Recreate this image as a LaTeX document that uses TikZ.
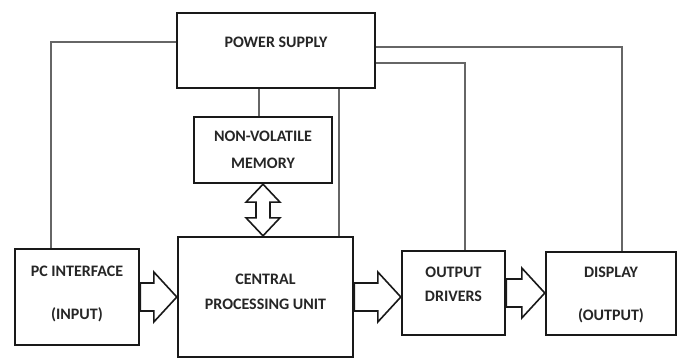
\documentclass[tikz,border=0pt]{standalone}
\usepackage{fontspec}
\setmainfont{Carlito}
\usetikzlibrary{calc,positioning}

% hollow block arrows between two boxes
\newcommand{\fatarrow}[2]{%
  \draw[fat] let \p1=(#1.east), \p2=(#2.west) in
    (\x1,\y1+14) -- (\x2-23,\y1+14) -- (\x2-23,\y1+25) -- (\x2,\y1)
    -- (\x2-23,\y1-25) -- (\x2-23,\y1-14) -- (\x1,\y1-14) -- cycle;}
\newcommand{\busarrow}[2]{%
  \draw[fat] let \p1=(#1.south), \p2=(#2.north) in
    (\x1,\y1) -- (\x1+17,\y1-18) -- (\x1+7,\y1-18) -- (\x1+7,\y2+18) -- (\x1+17,\y2+18)
    -- (\x1,\y2) -- (\x1-17,\y2+18) -- (\x1-7,\y2+18) -- (\x1-7,\y1-18) -- (\x1-17,\y1-18) -- cycle;}

\begin{document}
\begin{tikzpicture}[
    x=1pt, y=-1pt,
    every node/.style={font=\bfseries\fontsize{16}{25}\selectfont, inner sep=0pt},
    box/.style={draw=black!90, line width=2.4pt, fill=white},
    txt/.style={align=center, text=black!85},
    fat/.style={draw=black!90, line width=1.6pt, fill=white, line join=miter},
    wire/.style={draw=black!60, line width=1.2pt},
  ]
    \useasboundingbox (0,0) rectangle (677,358);

    % boxes
    \node[box, minimum width=198pt, minimum height=75pt] (ps) at (276,50.5) {};
    \node[txt] at ([yshift=8]ps.center) {POWER SUPPLY};

    \node[box, minimum width=138pt, minimum height=66pt] (nv) at (263,150) {};
    \node[txt, font=\bfseries\fontsize{16}{27}\selectfont] at (nv.center) {NON-VOLATILE\\MEMORY};

    \node[box, minimum width=175pt, minimum height=120pt] (cpu) at (265.5,297) {};
    \node[txt] at ([yshift=5.5]cpu.center) {CENTRAL\\PROCESSING UNIT};

    \node[box, minimum width=124pt, minimum height=96pt] (pc) at (77,297) {};
    \node[txt, font=\bfseries\fontsize{16}{43}\selectfont] at ([yshift=3.5]pc.center) {PC INTERFACE\\(INPUT)};

    \node[box, minimum width=103pt, minimum height=84pt] (od) at (453.5,293) {};
    \node[txt, font=\bfseries\fontsize{16}{24}\selectfont] at ([yshift=9]od.center) {OUTPUT\\DRIVERS};

    \node[box, minimum width=130pt, minimum height=83pt] (disp) at (611,293.5) {};
    \node[txt, font=\bfseries\fontsize{16}{43}\selectfont] at ([yshift=-1]disp.center) {DISPLAY\\(OUTPUT)};

    % supply lines
    \draw[wire] ([yshift=8.5]ps.west) -| ([xshift=-26]pc.north);
    \draw[wire] ([yshift=3.5]ps.east) -| ([xshift=11]disp.north);
    \draw[wire] ([yshift=-12.5]ps.east) -| ([xshift=11.5]od.north);
    \draw[wire] ([xshift=-17]ps.south) -- ([xshift=-17]ps.south |- nv.north);
    \draw[wire] ([xshift=63]ps.south) -- ([xshift=63]ps.south |- cpu.north);

    % data flow
    \busarrow{nv}{cpu}
    \fatarrow{pc}{cpu}
    \fatarrow{cpu}{od}
    \fatarrow{od}{disp}
\end{tikzpicture}
\end{document}
